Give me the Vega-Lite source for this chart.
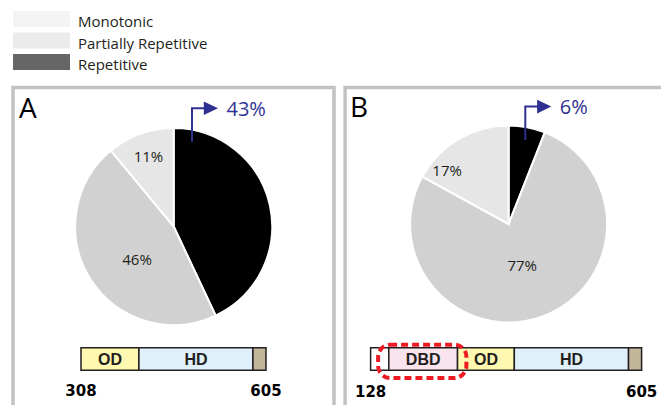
{
  "$schema": "https://vega.github.io/schema/vega-lite/v6.json",
  "background": "#ffffff",
  "padding": {"left": 11, "top": 11, "right": 0, "bottom": 0},
  "bounds": "flush",
  "spacing": 17.5,
  "config": {"view": {"stroke": null}, "font": "Open Sans", "text": {"color": "#231f20"}},
  "datasets": {
    "legend": [
      {"category": "Monotonic"},
      {"category": "Partially Repetitive"},
      {"category": "Repetitive"}
    ],
    "pies": [
      {"panel": "A", "category": "Repetitive", "share": 0.43},
      {"panel": "A", "category": "Partially Repetitive", "share": 0.46},
      {"panel": "A", "category": "Monotonic", "share": 0.11},
      {"panel": "B", "category": "Repetitive", "share": 0.06},
      {"panel": "B", "category": "Partially Repetitive", "share": 0.77},
      {"panel": "B", "category": "Monotonic", "share": 0.17}
    ],
    "domains": [
      {"panel": "A", "name": "OD", "start": 308, "end": 401},
      {"panel": "A", "name": "HD", "start": 401, "end": 584},
      {"panel": "A", "name": "C-term", "start": 584, "end": 605},
      {"panel": "B", "name": "N-term", "start": 128, "end": 160},
      {"panel": "B", "name": "DBD", "start": 160, "end": 281},
      {"panel": "B", "name": "OD", "start": 281, "end": 381},
      {"panel": "B", "name": "HD", "start": 381, "end": 582},
      {"panel": "B", "name": "C-term", "start": 582, "end": 605}
    ],
    "ends": [
      {"panel": "A", "residue": 308},
      {"panel": "A", "residue": 605},
      {"panel": "B", "residue": 128},
      {"panel": "B", "residue": 605}
    ],
    "panels": [{"panel": "A"}, {"panel": "B"}]
  },
  "resolve": {"scale": {"fill": "independent", "color": "independent", "x": "independent", "y": "independent"}},
  "vconcat": [
    {
      "width": 57,
      "height": 59,
      "data": {"name": "legend"},
      "layer": [
        {
          "mark": {"type": "rect"},
          "encoding": {
            "y": {"field": "category", "type": "nominal", "sort": null, "scale": {"type": "band", "domain": ["Monotonic", "Partially Repetitive", "Repetitive"], "paddingInner": 0.256, "paddingOuter": 0}, "axis": null},
            "x": {"datum": 0, "type": "quantitative", "scale": {"domain": [0, 1], "nice": false, "zero": false}, "axis": null},
            "x2": {"datum": 1},
            "fill": {"field": "category", "type": "nominal", "scale": {"domain": ["Monotonic", "Partially Repetitive", "Repetitive"], "range": ["#f4f4f4", "#ebebeb", "#666666"]}, "legend": null}
          }
        },
        {
          "mark": {"type": "text", "align": "left", "baseline": "alphabetic", "dx": 8, "dy": 8, "fontSize": 15},
          "encoding": {
            "y": {"field": "category", "type": "nominal", "sort": null},
            "x": {"datum": 1, "type": "quantitative"},
            "text": {"field": "category", "type": "nominal"}
          }
        }
      ]
    },
    {
      "spacing": 10.1,
      "bounds": "flush",
      "hconcat": [
        {
          "width": 321.4,
          "height": 278,
          "resolve": {"scale": {"x": "independent"}},
          "layer": [
            {
              "layer": [
                {
                  "data": {"name": "panels"},
                  "transform": [{"filter": "datum.panel === 'A'"}],
                  "mark": {"type": "rect", "filled": false, "color": "#c2c2c2", "strokeWidth": 3.5},
                  "encoding": {
                    "x": {"datum": 0, "type": "quantitative", "scale": {"domain": [0, 321.4], "range": [0, 321.4], "nice": false, "zero": false}, "axis": null},
                    "x2": {"datum": 321},
                    "y": {"datum": 0, "type": "quantitative", "scale": {"domain": [0, 278], "range": [0, 278], "nice": false, "zero": false}, "axis": null},
                    "y2": {"datum": 319.5}
                  }
                },
                {
                  "data": {"name": "panels"},
                  "transform": [{"filter": "datum.panel === 'A'"}],
                  "mark": {"type": "text", "align": "left", "baseline": "alphabetic", "fontSize": 28, "color": "#000000"},
                  "encoding": {
                    "x": {"datum": 6, "type": "quantitative"},
                    "y": {"datum": 30, "type": "quantitative"},
                    "text": {"field": "panel", "type": "nominal"}
                  }
                },
                {
                  "data": {"name": "pies"},
                  "transform": [{"filter": "datum.panel === 'A'"}],
                  "mark": {"type": "arc", "outerRadius": 98.5, "stroke": "#ffffff", "strokeWidth": 2},
                  "encoding": {
                    "theta": {"field": "share", "type": "quantitative", "stack": true, "scale": {"domain": [0, 1]}},
                    "color": {"field": "category", "type": "nominal", "scale": {"domain": ["Repetitive", "Partially Repetitive", "Monotonic"], "range": ["#000000", "#d1d1d1", "#e6e6e6"]}, "legend": null},
                    "order": {"field": "category", "sort": "descending"}
                  }
                },
                {
                  "data": {"name": "pies"},
                  "transform": [{"filter": "datum.panel === 'A'"}],
                  "mark": {"type": "text", "radius": 74.6, "fontSize": 15, "align": "center", "baseline": "middle", "dy": 0.5},
                  "encoding": {
                    "theta": {"field": "share", "type": "quantitative", "stack": true},
                    "order": {"field": "category", "sort": "descending"},
                    "detail": {"field": "category"},
                    "text": {"condition": {"test": "datum.category === 'Monotonic'", "field": "share", "type": "quantitative", "format": ".0%"}, "value": ""}
                  }
                },
                {
                  "data": {"name": "pies"},
                  "transform": [{"filter": "datum.panel === 'A'"}],
                  "mark": {"type": "text", "radius": 49, "fontSize": 15, "align": "center", "baseline": "middle", "dx": 4.7, "dy": 7.3},
                  "encoding": {
                    "theta": {"field": "share", "type": "quantitative", "stack": true},
                    "order": {"field": "category", "sort": "descending"},
                    "detail": {"field": "category"},
                    "text": {"condition": {"test": "datum.category === 'Partially Repetitive'", "field": "share", "type": "quantitative", "format": ".0%"}, "value": ""}
                  }
                },
                {
                  "data": {"name": "pies"},
                  "transform": [{"filter": "datum.panel === 'A' && datum.category === 'Repetitive'"}],
                  "mark": {"type": "point", "shape": "M-1,0 H1 V-32.4 H11.8 V-40.2 L26,-33.4 L11.8,-26.6 V-34.4 H-1 Z", "size": 4, "filled": true, "opacity": 1, "color": "#2e3192", "strokeWidth": 0},
                  "encoding": {
                    "x": {"datum": 179, "type": "quantitative"},
                    "y": {"datum": 54.2, "type": "quantitative"}
                  }
                },
                {
                  "data": {"name": "pies"},
                  "transform": [{"filter": "datum.panel === 'A' && datum.category === 'Repetitive'"}],
                  "mark": {"type": "text", "align": "left", "baseline": "alphabetic", "dx": 34.5, "dy": -25.8, "fontSize": 20, "color": "#2e3192"},
                  "encoding": {
                    "x": {"datum": 179, "type": "quantitative"},
                    "y": {"datum": 54.2, "type": "quantitative"},
                    "text": {"field": "share", "type": "quantitative", "format": ".0%"}
                  }
                }
              ]
            },
            {
              "layer": [
                {
                  "data": {"name": "domains"},
                  "transform": [{"filter": "datum.panel === 'A'"}],
                  "mark": {"type": "rect", "stroke": "#231f20", "strokeWidth": 1.5},
                  "encoding": {
                    "x": {"field": "start", "type": "quantitative", "scale": {"domain": [308, 605], "range": [68, 253], "nice": false, "zero": false}, "axis": null},
                    "x2": {"field": "end"},
                    "y": {"datum": 260.3, "type": "quantitative"},
                    "y2": {"datum": 282.8},
                    "fill": {"field": "name", "type": "nominal", "scale": {"domain": ["N-term", "DBD", "OD", "HD", "C-term"], "range": ["#ffffff", "#f9e4ed", "#fff8b0", "#dff0fb", "#c3b79b"]}, "legend": null}
                  }
                },
                {
                  "data": {"name": "domains"},
                  "transform": [
                    {"filter": "datum.panel === 'A' && datum.name !== 'N-term' && datum.name !== 'C-term'"},
                    {"fold": ["start", "end"], "as": ["bound", "residue"]}
                  ],
                  "mark": {"type": "text", "font": "Liberation Sans", "fontWeight": "bold", "fontSize": 16, "align": "center", "baseline": "middle", "color": "#231f20"},
                  "encoding": {
                    "x": {"aggregate": "mean", "field": "residue", "type": "quantitative"},
                    "y": {"datum": 272.4, "type": "quantitative"},
                    "text": {"field": "name", "type": "nominal"}
                  }
                },
                {
                  "data": {"name": "ends"},
                  "transform": [{"filter": "datum.panel === 'A'"}],
                  "mark": {"type": "text", "font": "DejaVu Sans", "fontWeight": "bold", "fontSize": 15, "align": "center", "baseline": "alphabetic", "color": "#000000"},
                  "encoding": {
                    "x": {"field": "residue", "type": "quantitative"},
                    "y": {"datum": 308.2, "type": "quantitative"},
                    "text": {"field": "residue", "type": "quantitative", "format": "d"}
                  }
                }
              ]
            }
          ]
        },
        {
          "width": 327,
          "height": 273,
          "resolve": {"scale": {"x": "independent"}},
          "layer": [
            {
              "layer": [
                {
                  "data": {"name": "panels"},
                  "transform": [{"filter": "datum.panel === 'B'"}],
                  "mark": {"type": "rect", "filled": false, "color": "#c2c2c2", "strokeWidth": 3.5},
                  "encoding": {
                    "x": {"datum": 0, "type": "quantitative", "scale": {"domain": [0, 327], "range": [0, 327], "nice": false, "zero": false}, "axis": null},
                    "x2": {"datum": 320.5},
                    "y": {"datum": 0, "type": "quantitative", "scale": {"domain": [0, 273], "range": [0, 273], "nice": false, "zero": false}, "axis": null},
                    "y2": {"datum": 319.5}
                  }
                },
                {
                  "data": {"name": "panels"},
                  "transform": [{"filter": "datum.panel === 'B'"}],
                  "mark": {"type": "text", "align": "left", "baseline": "alphabetic", "fontSize": 28, "color": "#000000"},
                  "encoding": {
                    "x": {"datum": 5, "type": "quantitative"},
                    "y": {"datum": 29.5, "type": "quantitative"},
                    "text": {"field": "panel", "type": "nominal"}
                  }
                },
                {
                  "data": {"name": "pies"},
                  "transform": [{"filter": "datum.panel === 'B'"}],
                  "mark": {"type": "arc", "outerRadius": 98.5, "stroke": "#ffffff", "strokeWidth": 2},
                  "encoding": {
                    "theta": {"field": "share", "type": "quantitative", "stack": true, "scale": {"domain": [0, 1]}},
                    "color": {"field": "category", "type": "nominal", "scale": {"domain": ["Repetitive", "Partially Repetitive", "Monotonic"], "range": ["#000000", "#d1d1d1", "#e6e6e6"]}, "legend": null},
                    "order": {"field": "category", "sort": "descending"}
                  }
                },
                {
                  "data": {"name": "pies"},
                  "transform": [{"filter": "datum.panel === 'B'"}],
                  "mark": {"type": "text", "radius": 75, "fontSize": 15, "align": "center", "baseline": "middle", "dx": -23.3, "dy": 11.4},
                  "encoding": {
                    "theta": {"field": "share", "type": "quantitative", "stack": true},
                    "order": {"field": "category", "sort": "descending"},
                    "detail": {"field": "category"},
                    "text": {"condition": {"test": "datum.category === 'Monotonic'", "field": "share", "type": "quantitative", "format": ".0%"}, "value": ""}
                  }
                },
                {
                  "data": {"name": "pies"},
                  "transform": [{"filter": "datum.panel === 'B'"}],
                  "mark": {"type": "text", "radius": 43, "fontSize": 15, "align": "center", "baseline": "middle", "dx": -1, "dy": 1.3},
                  "encoding": {
                    "theta": {"field": "share", "type": "quantitative", "stack": true},
                    "order": {"field": "category", "sort": "descending"},
                    "detail": {"field": "category"},
                    "text": {"condition": {"test": "datum.category === 'Partially Repetitive'", "field": "share", "type": "quantitative", "format": ".0%"}, "value": ""}
                  }
                },
                {
                  "data": {"name": "pies"},
                  "transform": [{"filter": "datum.panel === 'B' && datum.category === 'Repetitive'"}],
                  "mark": {"type": "point", "shape": "M-1,0 H1 V-32.4 H11.8 V-40.2 L26,-33.4 L11.8,-26.6 V-34.4 H-1 Z", "size": 4, "filled": true, "opacity": 1, "color": "#2e3192", "strokeWidth": 0},
                  "encoding": {
                    "x": {"datum": 180.2, "type": "quantitative"},
                    "y": {"datum": 52.5, "type": "quantitative"}
                  }
                },
                {
                  "data": {"name": "pies"},
                  "transform": [{"filter": "datum.panel === 'B' && datum.category === 'Repetitive'"}],
                  "mark": {"type": "text", "align": "left", "baseline": "alphabetic", "dx": 34.5, "dy": -25.8, "fontSize": 20, "color": "#2e3192"},
                  "encoding": {
                    "x": {"datum": 180.2, "type": "quantitative"},
                    "y": {"datum": 52.5, "type": "quantitative"},
                    "text": {"field": "share", "type": "quantitative", "format": ".0%"}
                  }
                }
              ]
            },
            {
              "layer": [
                {
                  "data": {"name": "domains"},
                  "transform": [{"filter": "datum.panel === 'B'"}],
                  "mark": {"type": "rect", "stroke": "#231f20", "strokeWidth": 1.5},
                  "encoding": {
                    "x": {"field": "start", "type": "quantitative", "scale": {"domain": [128, 605], "range": [25.5, 296.5], "nice": false, "zero": false}, "axis": null},
                    "x2": {"field": "end"},
                    "y": {"datum": 260.3, "type": "quantitative"},
                    "y2": {"datum": 282.8},
                    "fill": {"field": "name", "type": "nominal", "scale": {"domain": ["N-term", "DBD", "OD", "HD", "C-term"], "range": ["#ffffff", "#f9e4ed", "#fff8b0", "#dff0fb", "#c3b79b"]}, "legend": null}
                  }
                },
                {
                  "data": {"values": [{"panel": "B", "note": "DBD highlight"}]},
                  "mark": {"type": "rect", "filled": false, "color": "#ed1c24", "strokeWidth": 4, "strokeDash": [7, 4], "cornerRadius": 12},
                  "encoding": {
                    "x": {"datum": 141.2, "type": "quantitative"},
                    "x2": {"datum": 296.6},
                    "y": {"datum": 257.2, "type": "quantitative"},
                    "y2": {"datum": 290.5}
                  }
                },
                {
                  "data": {"name": "domains"},
                  "transform": [
                    {"filter": "datum.panel === 'B' && datum.name !== 'N-term' && datum.name !== 'C-term'"},
                    {"fold": ["start", "end"], "as": ["bound", "residue"]}
                  ],
                  "mark": {"type": "text", "font": "Liberation Sans", "fontWeight": "bold", "fontSize": 16, "align": "center", "baseline": "middle", "color": "#231f20"},
                  "encoding": {
                    "x": {"aggregate": "mean", "field": "residue", "type": "quantitative"},
                    "y": {"datum": 272.4, "type": "quantitative"},
                    "text": {"field": "name", "type": "nominal"}
                  }
                },
                {
                  "data": {"name": "ends"},
                  "transform": [{"filter": "datum.panel === 'B'"}],
                  "mark": {"type": "text", "font": "DejaVu Sans", "fontWeight": "bold", "fontSize": 15, "align": "center", "baseline": "alphabetic", "color": "#000000"},
                  "encoding": {
                    "x": {"field": "residue", "type": "quantitative"},
                    "y": {"datum": 309.2, "type": "quantitative"},
                    "text": {"field": "residue", "type": "quantitative", "format": "d"}
                  }
                }
              ]
            }
          ]
        }
      ]
    }
  ]
}
